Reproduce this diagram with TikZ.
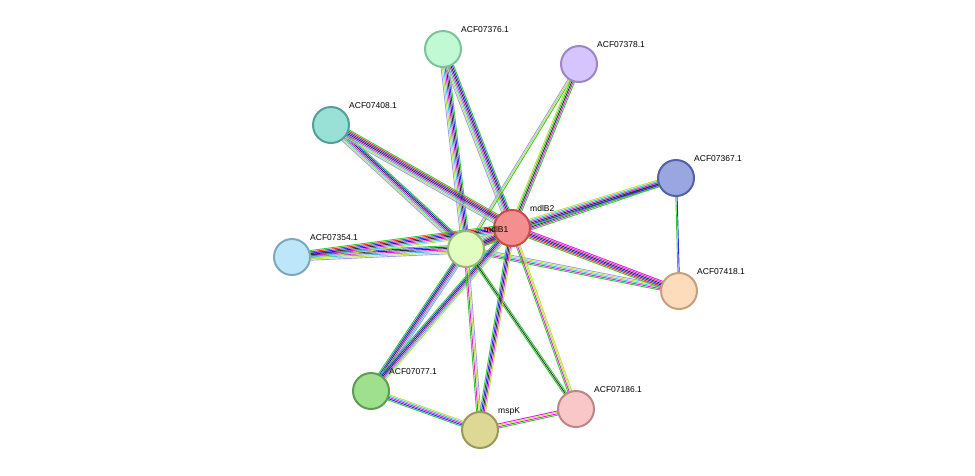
\documentclass[tikz,border=0pt]{standalone}
\usepackage{fontspec}
\setmainfont{Liberation Sans}
\usetikzlibrary{calc}
\definecolor{eg}{HTML}{33CC33}
\definecolor{er}{HTML}{FF2020}
\definecolor{eb}{HTML}{2B2BFF}
\definecolor{ek}{HTML}{303030}
\definecolor{em}{HTML}{E020E0}
\definecolor{ec}{HTML}{40C8E0}
\definecolor{ey}{HTML}{C0E040}
\definecolor{el}{HTML}{A0A0F0}
\tikzset{
  prot/.style={circle,minimum size=36pt,inner sep=0pt,line width=2pt},
  lab/.style={font=\fontsize{8.5}{10}\selectfont,anchor=base west,inner sep=0pt},
  ln/.style={line width=0.9pt}
}
\newcommand\sedge[4]{%
  \foreach \c [count=\i] in {#4}{%
    \pgfmathsetmacro\o{(\i-(#3+1)/2)*1.35}%
    \draw[ln,\c] ($(#1)!\o pt!90:(#2)$) -- ($(#2)!\o pt!-90:(#1)$);
  }}
\begin{document}
\begin{tikzpicture}[x=1pt,y=-1pt]
\useasboundingbox (0,0) rectangle (975,475);
\coordinate (p376) at (443,49);
\coordinate (p378) at (579,64);
\coordinate (p408) at (331,125);
\coordinate (p367) at (676,178);
\coordinate (pB2) at (512,228);
\coordinate (pB1) at (466,249);
\coordinate (p354) at (292,257);
\coordinate (p418) at (679,291);
\coordinate (p077) at (371,391);
\coordinate (p186) at (576,409);
\coordinate (pK) at (480,430);
% edges
\sedge{pB1}{p376}{7}{eg,eb,ek,em,ec,ey,el}
\sedge{pB2}{p376}{7}{eg,eb,ek,em,ec,ey,el}
\sedge{pB1}{p378}{3}{eg,ey,el}
\sedge{pB2}{p378}{5}{eg,em,ek,eg,ey}
\sedge{pB1}{p408}{7}{eg,eb,ek,em,ec,ey,el}
\sedge{pB2}{p408}{8}{eg,er,eb,ek,em,ec,ey,el}
\sedge{pB1}{p367}{5}{eg,em,ek,ec,ey}
\sedge{pB2}{p367}{6}{eg,eb,ek,em,ec,ey}
\sedge{pB1}{pB2}{8}{eg,er,eb,ek,em,ec,ey,el}
\sedge{pB1}{p354}{7}{eg,eb,ek,em,ec,ey,el}
\sedge{pB2}{p354}{7}{eg,er,eb,ek,em,ec,ey}
\sedge{pB1}{p418}{5}{eg,em,ec,ey,el}
\sedge{pB2}{p418}{6}{eg,er,eb,ek,em,em}
\sedge{pB1}{p077}{6}{eg,eb,ek,em,ec,el}
\sedge{pB2}{p077}{6}{eg,eb,ek,em,ec,ey}
\sedge{pB1}{p186}{3}{eg,ek,eg}
\sedge{pB2}{p186}{4}{eg,em,ey,ey}
\sedge{pB1}{pK}{4}{eg,em,ey,el}
\sedge{pB2}{pK}{5}{eg,eb,ek,em,ey}
\sedge{p367}{p418}{2}{eg,eb}
\sedge{p077}{pK}{5}{eg,eb,em,ec,ey}
\sedge{pK}{p186}{4}{eg,em,ey,em}
% nodes
\node[prot,fill={rgb,255:red,193;green,249;blue,213},draw={rgb,255:red,124;green,195;blue,154}] (n376) at (p376) {};
\node[prot,fill={rgb,255:red,213;green,196;blue,253},draw={rgb,255:red,158;green,133;blue,200}] (n378) at (p378) {};
\node[prot,fill={rgb,255:red,153;green,224;blue,214},draw={rgb,255:red,85;green,160;blue,150}] (n408) at (p408) {};
\node[prot,fill={rgb,255:red,154;green,166;blue,224},draw={rgb,255:red,86;green,96;blue,166}] (n367) at (p367) {};
\node[prot,fill={rgb,255:red,245;green,142;blue,142},draw={rgb,255:red,201;green,77;blue,77}] (nB2) at (pB2) {};
\node[prot,fill={rgb,255:red,226;green,253;blue,192},draw={rgb,255:red,156;green,181;blue,122}] (nB1) at (pB1) {};
\node[prot,fill={rgb,255:red,189;green,230;blue,250},draw={rgb,255:red,127;green,167;blue,191}] (n354) at (p354) {};
\node[prot,fill={rgb,255:red,253;green,220;blue,188},draw={rgb,255:red,196;green,160;blue,124}] (n418) at (p418) {};
\node[prot,fill={rgb,255:red,158;green,224;blue,142},draw={rgb,255:red,94;green,156;blue,80}] (n077) at (p077) {};
\node[prot,fill={rgb,255:red,249;green,199;blue,199},draw={rgb,255:red,187;green,135;blue,135}] (n186) at (p186) {};
\node[prot,fill={rgb,255:red,221;green,217;blue,148},draw={rgb,255:red,156;green,152;blue,88}] (nK) at (pK) {};
% labels
\node[lab] at ($(p376)+(18,-17)$) {ACF07376.1};
\node[lab] at ($(p378)+(18,-17)$) {ACF07378.1};
\node[lab] at ($(p408)+(18,-17)$) {ACF07408.1};
\node[lab] at ($(p367)+(18,-17)$) {ACF07367.1};
\node[lab] at ($(pB2)+(18,-17)$) {mdlB2};
\node[lab] at ($(pB1)+(18,-17)$) {mdlB1};
\node[lab] at ($(p354)+(18,-17)$) {ACF07354.1};
\node[lab] at ($(p418)+(18,-17)$) {ACF07418.1};
\node[lab] at ($(p077)+(18,-17)$) {ACF07077.1};
\node[lab] at ($(p186)+(18,-17)$) {ACF07186.1};
\node[lab] at ($(pK)+(18,-17)$) {mspK};
\end{tikzpicture}
\end{document}
